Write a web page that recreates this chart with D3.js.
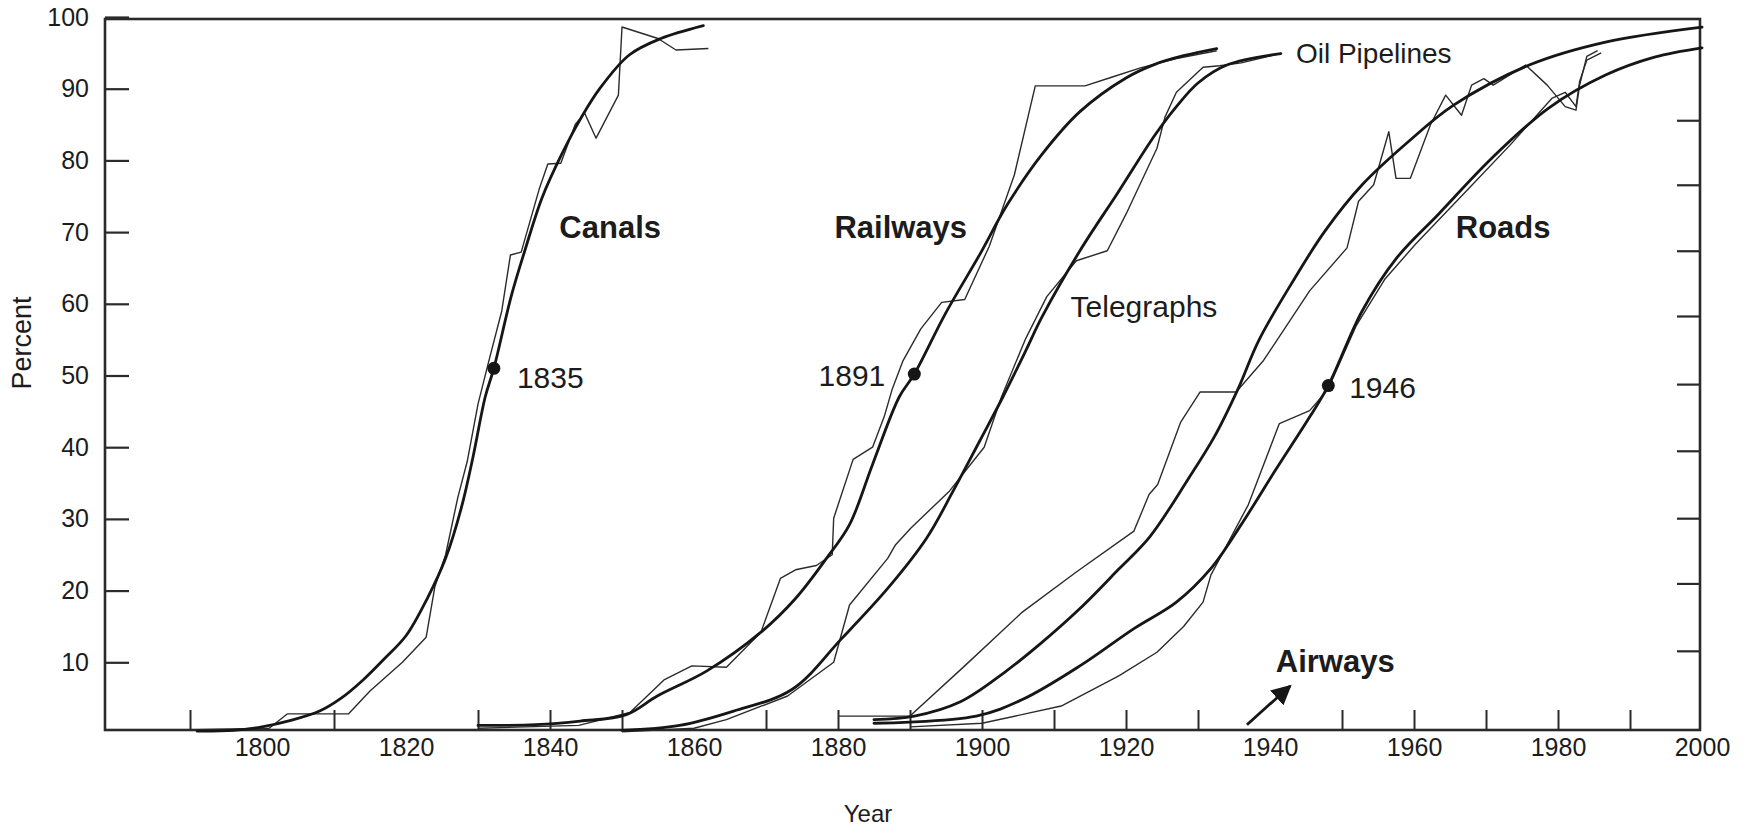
<!DOCTYPE html>
<html><head><meta charset="utf-8">
<script src="https://cdn.jsdelivr.net/npm/d3@7"></script>
<style>
html,body{margin:0;padding:0;background:#fff;}
svg{display:block;}
text{font-family:"Liberation Sans",Arial,Helvetica,sans-serif;fill:#1c1c1c;}
</style>
</head><body>
<svg id="chart" width="1745" height="833"></svg>
<script>
// ---- data (year, percent) ----
const canalFit = [[1791,0.4],[1796,0.5],[1800,1.0],[1804,1.9],[1808,3.2],[1811,5],[1814,7.5],[1817,10.5],[1820,13.7],[1823,19],[1825.5,24.5],[1827.7,31.6],[1829.3,38.6],[1831,47],[1832.2,51],[1834.6,61],[1836.5,67.4],[1838.9,74.8],[1841.6,80.8],[1844.3,85.9],[1846.9,90],[1851,94.7],[1855.4,97],[1861.3,98.8]];
const canalData = [[1791,0.6],[1801,0.8],[1803.5,2.8],[1812,2.8],[1815,6],[1819.5,10],[1822.8,13.5],[1824,20.5],[1825.5,25],[1827.2,33],[1828.5,38],[1830,46],[1831.5,52],[1833.3,59],[1834.5,66.8],[1836,67.2],[1838.5,76],[1839.7,79.5],[1841.5,79.6],[1843.5,85],[1844.8,86.6],[1846.4,83.1],[1849.5,89.1],[1850,98.6],[1855,97],[1857.5,95.4],[1862,95.6]];
const railFit = [[1830,1.2],[1838,1.3],[1844.2,1.8],[1850.6,2.7],[1854.9,5.3],[1861.8,8.8],[1869.3,14.2],[1874.1,18.9],[1878.4,24.5],[1881.6,29.2],[1884.8,37.6],[1888.5,47],[1890.6,50.2],[1894.9,58.6],[1899.7,66.9],[1903.5,73.8],[1908.3,80.8],[1913.6,86.8],[1920,91.5],[1924,93.4],[1928,94.6],[1932.6,95.6]];
const railData = [[1830,0.8],[1844,1.2],[1851.1,3],[1855.9,7.6],[1859.7,9.5],[1864.5,9.3],[1869.3,14.2],[1872,21.7],[1874.1,22.9],[1877,23.5],[1879.2,25],[1879.4,30.1],[1882.1,38.3],[1884.8,40],[1886.4,44.2],[1887.5,48],[1889,52],[1891.5,56.5],[1894.4,60.2],[1897.6,60.6],[1901,68],[1904.5,78],[1907.4,90.4],[1914.3,90.4],[1918,91.6],[1922,92.9],[1927,94.2],[1932.6,95.3]];
const telFit = [[1850,0.5],[1858,1.2],[1865.5,3.2],[1873.6,6.2],[1880.5,13.3],[1886.9,20.3],[1892.3,27.3],[1896,33.9],[1899.7,40.9],[1902.9,47],[1906.1,53.5],[1908.3,58.1],[1913.6,67.4],[1919,75.7],[1924,83.5],[1927,87.5],[1930,90.8],[1934,93.3],[1941.5,94.9]];
const telData = [[1850,0.3],[1860,0.8],[1864.5,2],[1873,5.3],[1879.4,10],[1881.6,18],[1886.9,24.5],[1888,26.4],[1890.1,28.7],[1895.5,33.9],[1900.3,40],[1902.7,47],[1906,55],[1909,61],[1913.1,66],[1917.4,67.4],[1920,72.5],[1924.3,81.7],[1925.4,86],[1927,89.5],[1930.7,93],[1933,93.2],[1936,93.6],[1941,94.8]];
const oilFit = [[1885,2],[1890.6,2.5],[1897,4.5],[1903,8.5],[1908,12.5],[1913.6,17.5],[1919,23],[1923.3,27.5],[1928.6,35.5],[1932.3,41.5],[1935.5,48],[1938.5,55],[1943.4,63.5],[1947.6,70.1],[1952.8,76.6],[1959.2,82.6],[1965.5,87.7],[1976,93.3],[1986.6,96.5],[2000,98.6]];
const oilData = [[1880,2.5],[1890,2.5],[1897.6,9.5],[1905.6,17],[1913.1,22.6],[1921.1,28.3],[1923.2,33.4],[1924.4,34.8],[1927.6,43.5],[1930.3,47.7],[1935.3,47.7],[1939.1,52.1],[1945.5,61.8],[1950.7,67.8],[1952.3,74.3],[1954.4,76.6],[1956.5,84],[1957.5,77.5],[1959.5,77.5],[1962.3,85],[1964.4,89.1],[1966.6,86.3],[1968,90.5],[1969.7,91.4],[1971,90.5],[1975.5,93.3],[1978.5,90.5],[1981,87.5],[1982.5,87],[1983,90.5],[1984,94.5],[1985.5,95.3]];
const roadFit = [[1885,1.5],[1899.2,2.5],[1905.6,4.8],[1913.6,9.5],[1921.1,14.7],[1927,18.4],[1931.8,23.1],[1936,29.2],[1940.7,36.7],[1945.5,44.2],[1948.1,48.6],[1952.8,59],[1957.6,66.4],[1963.4,72.5],[1970.8,80.3],[1978.7,87.3],[1986.6,91.9],[1993.4,94.4],[2000,95.7]];
const roadData = [[1890,1],[1900,1.5],[1911,3.9],[1919,8.1],[1924.3,11.4],[1928,15],[1930.7,18.4],[1931.8,22.2],[1937,32],[1941.3,43.3],[1945.5,45.1],[1948,48],[1952,57],[1956,63.5],[1960.2,68.3],[1968.1,76.6],[1973.4,82.2],[1979.2,88.7],[1981,89.5],[1982.5,87.5],[1983,91],[1984,94],[1986,95]];

const midpoints = [[1832.2,51],[1890.6,50.2],[1948.1,48.6]];
const midLabels = ["1835","1891","1946"];
const seriesNames = ["Canals","Railways","Telegraphs","Oil Pipelines","Roads","Airways"];
const airwaysArrow = [[1936.8,1.3],[1942.8,6.7]];

const yTickValues = [10,20,30,40,50,60,70,80,90,100];
const rightTickValues = [11.6,21,30.1,39.5,48.8,58.3,67.4,76.6,85.6];
const xLabelValues = [1800,1820,1840,1860,1880,1900,1920,1940,1960,1980,2000];
const xTickMarks = [1790,1810,1830,1840,1850,1870,1880,1890,1900,1910,1920,1930,1950,1960,1970,1980,1990];

// ---- layout ----
const svg = d3.select("#chart");
const x = d3.scaleLinear().domain([1800,2000]).range([262,1702]);
const y = d3.scaleLinear().domain([0,100]).range([734,17]);
const frame = {left:105, right:1700, top:19, bottom:730};
const ink = "#161616";
const fontFam = '"Liberation Sans",Arial,sans-serif';

// frame
svg.append("rect").attr("x",frame.left).attr("y",frame.top)
  .attr("width",frame.right-frame.left).attr("height",frame.bottom-frame.top)
  .attr("fill","none").attr("stroke","#2a2a2a").attr("stroke-width",2.6);

// left axis
const gl = svg.append("g").attr("transform",`translate(${frame.left},0)`)
  .call(d3.axisLeft(y).tickValues(yTickValues).tickSize(-24).tickPadding(16).tickFormat(d3.format("d")));
gl.select(".domain").remove();
gl.selectAll("line").attr("stroke","#2a2a2a").attr("stroke-width",2.2);
gl.selectAll("text").attr("font-size",25).attr("fill","#1c1c1c").style("font-family",fontFam);

// right axis ticks
const gr = svg.append("g").attr("transform",`translate(${frame.right},0)`)
  .call(d3.axisRight(y).tickValues(rightTickValues).tickSize(-23).tickFormat(""));
gr.select(".domain").remove();
gr.selectAll("line").attr("stroke","#2a2a2a").attr("stroke-width",2.2);

// bottom axis: tick marks
const gb = svg.append("g").attr("transform",`translate(0,${frame.bottom})`)
  .call(d3.axisBottom(x).tickValues(xTickMarks).tickSize(-20).tickFormat(""));
gb.select(".domain").remove();
gb.selectAll("line").attr("stroke","#2a2a2a").attr("stroke-width",2);

// bottom axis: labels
const gbl = svg.append("g").attr("transform",`translate(0,${frame.bottom})`)
  .call(d3.axisBottom(x).tickValues(xLabelValues).tickSize(0).tickPadding(8).tickFormat(d3.format("d")));
gbl.select(".domain").remove();
gbl.selectAll("text").attr("font-size",25).attr("fill","#1c1c1c").style("font-family",fontFam);

// axis titles
svg.append("text").attr("transform","translate(24,343) rotate(-90)")
  .attr("text-anchor","middle").attr("dominant-baseline","middle")
  .attr("font-size",27).text("Percent");
svg.append("text").attr("x",868).attr("y",816)
  .attr("text-anchor","middle").attr("dominant-baseline","middle")
  .attr("font-size",24).text("Year");

// lines
const fitLine = d3.line().x(d=>x(d[0])).y(d=>y(d[1])).curve(d3.curveCatmullRom.alpha(0.5));
const dataLine = d3.line().x(d=>x(d[0])).y(d=>y(d[1]));
const plot = svg.append("g");

[canalData, railData, telData, oilData, roadData].forEach(s=>{
  plot.append("path").attr("d",dataLine(s)).attr("fill","none")
    .attr("stroke","#2b2b2b").attr("stroke-width",1.4).attr("stroke-linejoin","round");
});
[canalFit, railFit, telFit, oilFit, roadFit].forEach(s=>{
  plot.append("path").attr("d",fitLine(s)).attr("fill","none")
    .attr("stroke",ink).attr("stroke-width",2.8).attr("stroke-linejoin","round").attr("stroke-linecap","round");
});

// midpoint dots
plot.selectAll("circle.mid").data(midpoints).join("circle").attr("class","mid")
  .attr("cx",d=>x(d[0])).attr("cy",d=>y(d[1])).attr("r",6.5).attr("fill",ink);

function label(txt, yr, v, bold, size){
  svg.append("text").attr("x",x(yr)).attr("y",y(v))
    .attr("dominant-baseline","middle").attr("font-size",size)
    .attr("font-weight",bold?"bold":"normal").text(txt);
}
label(midLabels[0], 1835.4, 49.4, false, 30);
label(midLabels[1], 1877.3, 49.6, false, 30);
label(midLabels[2], 1951.0, 47.9, false, 30);
label(seriesNames[0], 1841.3, 70.3, true, 31);
label(seriesNames[1], 1879.5, 70.3, true, 31);
label(seriesNames[2], 1912.3, 59.3, false, 30);
label(seriesNames[3], 1943.6, 94.6, false, 28);
label(seriesNames[4], 1965.8, 70.3, true, 31);
label(seriesNames[5], 1940.8, 9.8, true, 31);

// airways arrow
svg.append("defs").append("marker").attr("id","ah").attr("viewBox","0 0 10 10")
  .attr("refX",9).attr("refY",5).attr("markerWidth",20).attr("markerHeight",20)
  .attr("markerUnits","userSpaceOnUse").attr("orient","auto")
  .append("path").attr("d","M0,0 L10,5 L0,10 z").attr("fill",ink);
svg.append("line")
  .attr("x1",x(airwaysArrow[0][0])).attr("y1",y(airwaysArrow[0][1]))
  .attr("x2",x(airwaysArrow[1][0])).attr("y2",y(airwaysArrow[1][1]))
  .attr("stroke",ink).attr("stroke-width",2.8).attr("marker-end","url(#ah)");
</script>
</body></html>
